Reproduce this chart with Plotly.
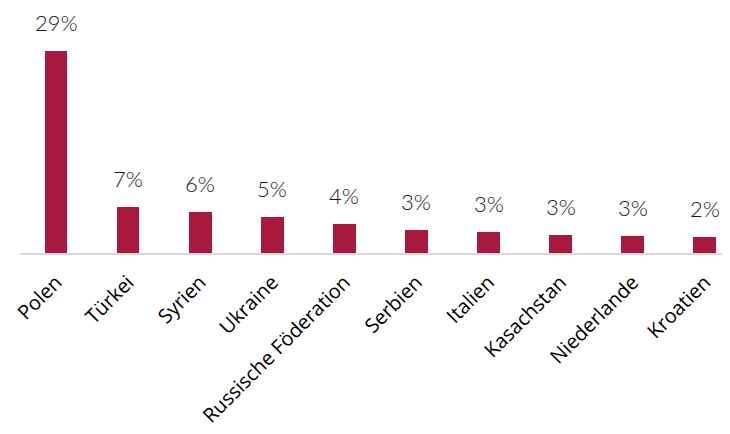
import plotly.graph_objects as go

categories = ["Polen", "Türkei", "Syrien", "Ukraine", "Russische Föderation",
              "Serbien", "Italien", "Kasachstan", "Niederlande", "Kroatien"]
values = [29.0, 6.6, 5.9, 5.1, 4.2, 3.3, 3.0, 2.6, 2.5, 2.3]
labels = ["29%", "7%", "6%", "5%", "4%", "3%", "3%", "3%", "3%", "2%"]

BAR = "#A8193D"

fig = go.Figure(go.Bar(
    x=categories, y=values, marker=dict(color=BAR, line=dict(width=0)),
    width=0.315, hoverinfo="skip",
))

for c, v, t in zip(categories, values, labels):
    fig.add_annotation(x=c, y=v, text=t, showarrow=False, yanchor="bottom",
                       yshift=13,
                       font=dict(family="Lato", size=22, color="#1A1A1A", weight=300))

# the page body adds an 8px offset, so the figure is sized to the visible area
fig.update_layout(
    width=722, height=426,
    margin=dict(l=12, r=0, t=0, b=181, autoexpand=False),
    paper_bgcolor="white", plot_bgcolor="white",
    showlegend=False,
    bargap=0,
)
fig.update_xaxes(
    range=[-0.5, 9.35], showline=True, linecolor="#D9D9D9", linewidth=1.5,
    ticks="", tickangle=-45, showgrid=False, automargin=False,
    ticklabelstandoff=8,
    tickfont=dict(family="Open Sans", size=20, color="#000000"),
)
fig.update_yaxes(range=[0, 35.17], visible=False, showgrid=False, zeroline=False,
                 automargin=False)

fig.write_html("out.html")
